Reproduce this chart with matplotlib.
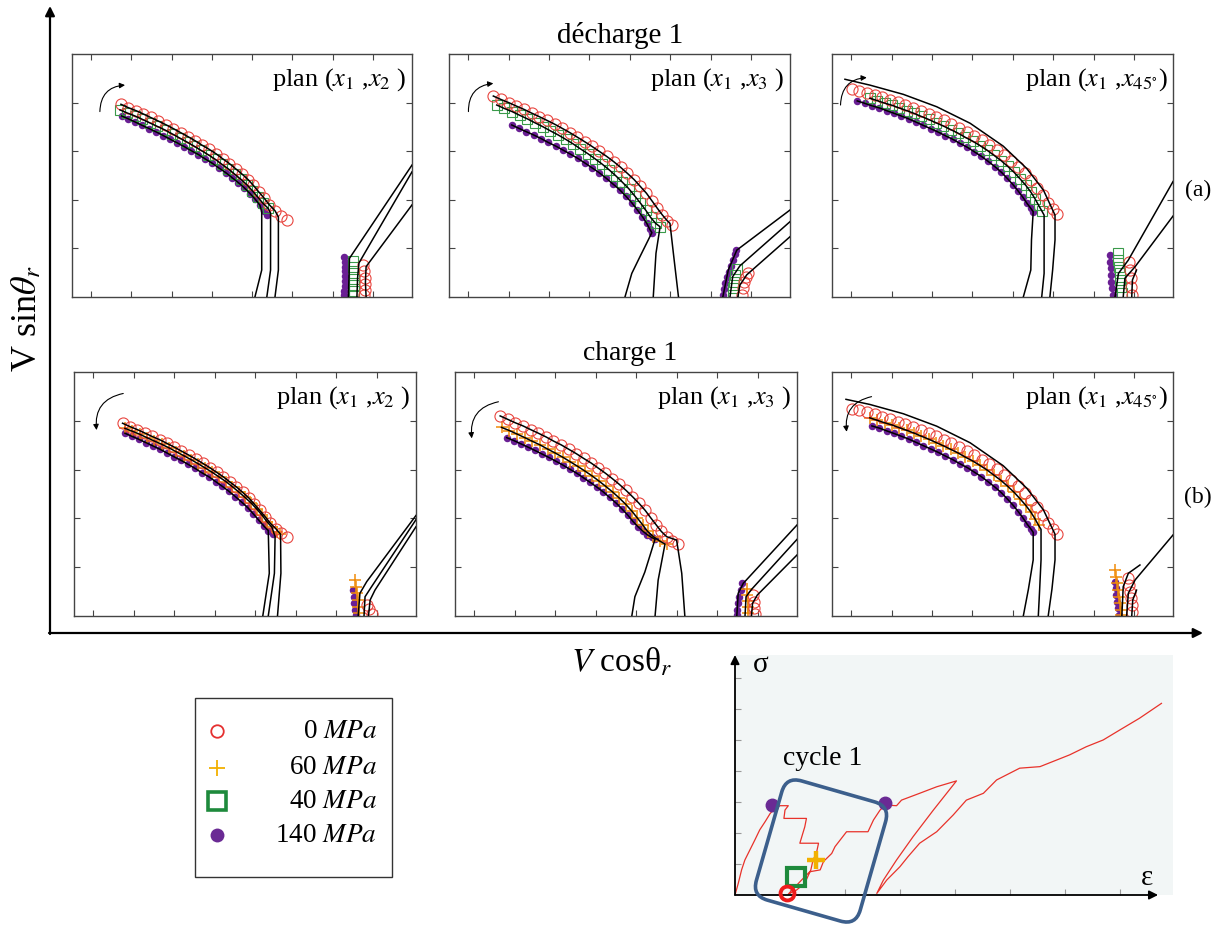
import matplotlib
matplotlib.use('Agg')
import matplotlib.pyplot as plt
from matplotlib.patches import FancyBboxPatch, Rectangle
from matplotlib.transforms import Affine2D

plt.rcParams['font.family'] = ['Liberation Serif', 'DejaVu Serif']
plt.rcParams['mathtext.fontset'] = 'stix'

# ============ DATA (panel units: % of panel width / height) ============
# ---- (a) décharge 1, plan (x1,x2) ----
a1_r_x = [14.4,16.6,18.8,21.0,23.1,25.4,27.6,29.8,32.0,34.1,36.2,38.2,40.3,42.4,44.3,46.3,48.1,50.0,51.8,53.3,54.9,56.5,58.0,59.7,61.4,63.1]
a1_r_y = [79.3,77.9,76.7,75.3,73.9,72.4,70.9,69.3,67.6,66.0,64.3,62.5,60.8,58.9,56.9,54.9,52.8,50.6,48.3,46.0,43.3,40.7,38.0,35.5,33.5,31.7]
a1_g_x = [14.1,16.3,18.5,20.7,22.8,25.1,27.4,29.5,31.7,33.8,35.9,37.9,40.0,42.1,44.0,46.0,47.8,49.7,51.5,53.0,54.6,56.2,57.7]
a1_g_y = [77.0,75.7,74.5,73.1,71.7,70.2,68.7,67.1,65.4,63.8,62.1,60.4,58.6,56.7,54.7,52.7,50.6,48.4,46.1,43.8,41.2,38.5,36.5]
a1_p_x = [14.6,16.6,18.6,20.7,22.7,24.8,26.9,28.9,31.0,33.0,35.1,37.2,39.2,41.3,43.2,45.2,47.1,48.9,50.7,52.4,53.9,55.3,56.5,57.3]
a1_p_y = [74.5,73.3,72.0,70.6,69.3,67.9,66.4,64.9,63.4,61.9,60.2,58.6,56.8,55.0,53.1,51.2,49.1,47.1,44.9,42.5,40.2,37.7,35.5,33.7]
a1_r_dx, a1_r_dy = [60.7,60.7,59.7], [33.0,11.1,0.0]
a1_g_dx, a1_g_dy = [58.4,58.4,57.3], [34.5,11.1,0.0]
a1_p_dx, a1_p_dy = [55.8,55.8,53.8], [35.0,11.1,0.0]
a1_pl_x = [80.0,80.3,80.3,80.3,80.4,80.3,80.2,80.1,80.0]
a1_pl_y = [16.5,14.5,12.5,10.5,8.5,6.5,4.5,2.5,0.8]
a1_gl_x = [82.6,82.7,82.8,82.9,83.0,83.0,82.9]
a1_gl_y = [15.0,12.5,10.0,7.5,5.0,2.5,0.5]
a1_rl_x = [85.5,85.9,86.1,86.2,86.1,86.0]
a1_rl_y = [13.0,10.5,8.0,5.5,3.0,0.8]
a1_l1_x, a1_l1_y = [81.3,81.5,81.6,100.0], [0.0,10.0,15.9,54.3]
a1_l2_x, a1_l2_y = [83.8,84.0,84.4,100.0], [0.0,8.0,14.0,51.5]
a1_l3_x, a1_l3_y = [86.5,86.3,86.5,100.0], [0.0,6.0,12.5,37.9]

# ---- (a) décharge 1, plan (x1,x3) ----
a2_r_x = [13.0,15.2,17.5,19.7,22.0,24.2,26.5,28.7,31.0,33.2,35.5,37.6,39.8,41.9,44.1,46.2,48.3,50.3,52.3,54.3,56.1,57.9,59.5,61.1,62.6,64.0,65.5]
a2_r_y = [82.7,81.3,80.0,78.6,77.2,75.7,74.2,72.7,71.1,69.4,67.6,65.8,63.9,62.0,59.9,57.9,55.7,53.4,50.9,48.3,45.5,42.7,39.6,36.5,33.7,31.4,29.5]
a2_g_x = [14.0,16.2,18.5,20.7,23.0,25.2,27.5,29.7,32.0,34.2,36.4,38.5,40.7,42.8,44.9,46.9,48.9,50.8,52.7,54.4,56.1,57.7,59.1,60.6,61.9]
a2_g_y = [79.0,77.6,76.3,74.8,73.3,71.7,70.1,68.4,66.7,64.9,63.0,61.0,59.0,56.9,54.7,52.4,49.9,47.3,44.6,41.7,38.7,35.7,32.8,30.3,28.9]
a2_p_x = [18.4,20.5,22.7,24.8,27.0,29.1,31.3,33.4,35.6,37.7,39.9,41.9,44.0,46.0,48.0,50.0,51.8,53.6,55.2,56.7,58.0,58.9,59.5]
a2_p_y = [70.8,69.4,68.0,66.7,65.2,63.6,62.1,60.5,58.8,57.1,55.1,53.2,51.2,49.0,46.6,44.2,41.6,38.8,35.9,33.1,30.3,27.8,26.5]
a2_r_dx, a2_r_dy = [64.8,65.8,67.3], [30.3,18.0,0.0]
a2_g_dx, a2_g_dy = [60.7,59.9], [18.0,0.0]
a2_p_dx, a2_p_dy = [56.0,53.6,51.6], [16.6,9.7,0.0]
a2_pl_x = [80.3,80.6,81.0,81.4,82.0,82.6,83.2,83.8,84.3]
a2_pl_y = [0.8,3.2,5.6,8.1,10.4,12.8,15.2,17.6,19.3]
a2_gl_x = [83.2,83.4,83.6,84.0,84.6]
a2_gl_y = [0.8,3.6,6.3,9.0,11.4]
a2_rl_x = [85.8,86.1,86.5,87.1,87.8]
a2_rl_y = [0.8,3.6,6.0,8.4,9.7]
a2_l1_x, a2_l1_y = [80.3,81.9,84.4,100.0], [0.0,11.1,19.3,35.8]
a2_l2_x, a2_l2_y = [82.4,83.2,85.3,100.0], [0.0,8.4,12.8,31.0]
a2_l3_x, a2_l3_y = [84.7,85.3,87.3,100.0], [0.0,4.9,9.1,24.8]

# ---- (a) décharge 1, plan (x1,x45) ----
a3_r_x = [5.8,8.0,10.3,12.5,14.8,17.0,19.3,21.5,23.8,26.0,28.3,30.5,32.8,35.0,37.2,39.5,41.7,44.0,46.1,48.3,50.4,52.5,54.5,56.5,58.4,60.1,61.8,63.3,64.7,65.9]
a3_r_y = [85.5,84.9,84.1,83.1,82.2,81.2,80.1,79.0,77.9,76.7,75.4,74.1,72.7,71.2,69.7,68.0,66.4,64.6,62.7,60.6,58.4,56.1,53.6,50.9,48.0,45.0,41.8,38.8,36.1,34.2]
a3_g_x = [11.1,13.3,15.4,17.6,19.7,21.9,24.0,26.2,28.3,30.5,32.6,34.8,37.0,39.1,41.3,43.4,45.5,47.5,49.6,51.5,53.4,55.1,56.8,58.3,59.5,60.6,61.5]
a3_g_y = [81.8,80.8,79.8,78.9,77.8,76.7,75.6,74.3,73.1,71.7,70.4,68.9,67.4,65.7,64.1,62.3,60.4,58.3,56.1,53.8,51.3,48.7,46.0,43.2,40.5,37.7,35.5]
a3_p_x = [7.4,9.6,11.7,13.9,16.0,18.2,20.3,22.5,24.6,26.8,28.9,31.1,33.2,35.4,37.5,39.7,41.7,43.8,45.8,47.8,49.7,51.4,53.1,54.6,56.0,57.2,58.3,59.0]
a3_p_y = [80.7,79.7,78.7,77.8,76.7,75.6,74.5,73.3,72.0,70.6,69.3,67.9,66.4,64.9,63.2,61.6,59.8,57.9,55.8,53.6,51.3,48.8,46.2,43.6,41.0,38.5,36.5,35.1]
a3_r_dx = [3.8,11.1,20.9,30.7,40.5,50.2,57.1,62.0,65.4,65.4,64.7,63.9]
a3_r_dy = [89.6,87.2,83.4,78.3,71.5,62.1,52.9,44.0,33.7,23.5,11.1,0.0]
a3_g_dx, a3_g_dy = [62.2,62.2,61.5], [33.7,9.7,0.0]
a3_p_dx, a3_p_dy = [58.5,58.3,56.1], [23.5,11.1,0.0]
a3_pl_x = [81.5,81.6,81.7,81.8,81.9,82.1,82.5]
a3_pl_y = [17.3,14.5,11.8,9.0,6.3,3.6,0.8]
a3_gl_x = [83.8,84.0,84.2,84.4,84.5,84.7,85.0]
a3_gl_y = [18.0,15.2,12.5,9.7,7.0,4.3,1.5]
a3_rl_x = [87.2,87.4,87.6,87.8,88.0]
a3_rl_y = [14.5,11.1,7.7,4.3,0.8]
a3_l1_x, a3_l1_y = [83.0,84.0,86.9,100.0], [0.0,9.7,15.2,47.5]
a3_l2_x, a3_l2_y = [85.4,85.9,88.9,100.0], [0.0,7.7,12.5,33.3]
a3_l3_x, a3_l3_y = [87.9,88.1,89.3], [0.0,7.0,11.1]

# ---- (b) charge 1, plan (x1,x2) ----
b1_r_x = [14.2,16.4,18.5,20.7,22.8,25.0,27.1,29.2,31.4,33.5,35.6,37.6,39.7,41.7,43.7,45.6,47.5,49.3,51.1,52.7,54.3,55.9,57.4,59.0,60.5,62.2]
b1_r_y = [79.0,77.6,76.4,75.0,73.6,72.3,70.8,69.3,67.6,66.0,64.3,62.6,60.8,58.9,57.0,54.9,52.9,50.7,48.4,45.9,43.3,40.7,38.0,35.8,33.9,32.2]
b1_o_x = [14.9,17.1,19.2,21.3,23.5,25.6,27.8,29.9,32.1,34.2,36.3,38.3,40.4,42.4,44.4,46.3,48.2,50.0,51.8,53.4,55.0,56.4,57.9,59.3,60.2]
b1_o_y = [76.9,75.7,74.5,73.1,71.7,70.4,68.9,67.3,65.7,64.1,62.4,60.7,58.9,57.0,55.1,53.0,50.8,48.6,46.3,43.9,41.3,38.7,36.3,34.6,33.5]
b1_p_x = [14.9,17.0,19.0,21.1,23.1,25.2,27.2,29.2,31.3,33.3,35.4,37.4,39.5,41.4,43.4,45.3,47.2,49.0,50.8,52.4,54.0,55.5,56.8,58.1]
b1_p_y = [74.9,73.6,72.4,71.0,69.7,68.3,66.8,65.3,63.8,62.2,60.5,58.7,57.0,55.1,53.1,51.1,48.9,46.7,44.4,41.9,39.3,36.9,35.0,33.6]
b1_r_dx, b1_r_dy = [60.4,60.5,59.5], [33.5,17.5,0.0]
b1_o_dx, b1_o_dy = [58.8,58.6,56.8], [32.5,17.5,0.0]
b1_p_dx, b1_p_dy = [57.1,55.2], [17.5,0.0]
b1_pl_x = [81.7,81.8,82.0,82.2,82.5]
b1_pl_y = [10.6,7.9,5.2,2.5,0.3]
b1_ol_x = [82.2,82.5,82.7,83.0,83.1,83.3]
b1_ol_y = [14.7,12.0,9.3,6.6,3.8,1.1]
b1_rl_x = [85.6,86.4,87.0]
b1_rl_y = [4.5,2.7,0.8]
b1_l1_x, b1_l1_y = [83.1,83.6,85.6,100.0], [0.0,9.3,14.1,41.2]
b1_l2_x, b1_l2_y = [84.8,85.1,87.0,100.0], [0.0,7.9,12.0,39.5]
b1_l3_x, b1_l3_y = [86.1,86.6,88.0,100.0], [0.0,6.6,10.6,36.6]

# ---- (b) charge 1, plan (x1,x3) ----
b2_r_x = [13.2,15.4,17.6,19.9,22.1,24.4,26.6,28.8,31.1,33.3,35.5,37.6,39.8,41.9,44.0,46.0,48.0,50.0,51.9,53.8,55.6,57.2,58.8,60.3,61.9,63.5,65.3]
b2_r_y = [82.0,80.6,79.2,77.9,76.4,74.9,73.4,71.7,70.1,68.3,66.5,64.6,62.7,60.6,58.5,56.3,54.0,51.5,48.9,46.2,43.3,40.3,37.4,34.7,32.5,30.9,29.5]
b2_o_x = [13.6,15.9,18.1,20.4,22.6,24.9,27.1,29.3,31.6,33.7,35.9,38.0,40.1,42.1,44.1,46.1,48.0,49.9,51.7,53.3,54.9,56.3,58.0,59.9,62.1]
b2_o_y = [77.3,76.0,74.6,73.1,71.6,70.1,68.4,66.8,65.0,63.2,61.3,59.4,57.4,55.3,53.1,50.8,48.4,45.8,43.0,40.2,37.3,34.7,32.5,30.7,29.5]
b2_p_x = [15.1,17.2,19.2,21.2,23.3,25.3,27.4,29.4,31.5,33.5,35.6,37.5,39.5,41.4,43.4,45.2,47.1,48.8,50.5,52.0,53.5,54.9,56.2,57.5,58.5]
b2_p_y = [73.1,71.9,70.6,69.3,67.9,66.5,65.0,63.5,61.9,60.2,58.5,56.7,54.8,52.9,50.8,48.6,46.3,43.9,41.4,38.8,36.6,34.8,33.3,32.2,31.5]
b2_r_dx, b2_r_dy = [64.8,66.3,67.2], [31.1,17.5,0.0]
b2_o_dx, b2_o_dy = [61.4,59.4,58.5], [29.5,14.7,0.0]
b2_p_dx, b2_p_dy = [55.5,52.6,51.7], [18.0,7.9,0.0]
b2_pl_x = [83.8,83.5,83.1,82.8,82.6,82.5]
b2_pl_y = [13.4,10.6,7.9,5.2,2.5,0.3]
b2_ol_x = [85.5,85.5,85.6,85.7,85.8]
b2_ol_y = [10.9,8.6,6.3,3.8,1.4]
b2_rl_x = [87.2,87.4,87.5,87.6]
b2_rl_y = [8.6,5.9,3.1,0.7]
b2_l1_x, b2_l1_y = [82.4,82.8,84.3,100.0], [0.0,9.3,13.4,37.3]
b2_l2_x, b2_l2_y = [84.8,85.1,86.7,100.0], [0.0,7.9,10.9,31.4]
b2_l3_x, b2_l3_y = [86.7,87.0,88.4,100.0], [0.0,5.2,8.6,25.0]

# ---- (b) charge 1, plan (x1,x45) ----
b3_r_x = [5.8,8.0,10.3,12.5,14.8,17.0,19.3,21.5,23.8,26.0,28.3,30.5,32.8,35.0,37.2,39.5,41.7,44.0,46.1,48.3,50.4,52.5,54.5,56.5,58.4,60.1,61.8,63.3,64.7,65.9]
b3_r_y = [85.0,84.4,83.6,82.6,81.7,80.7,79.6,78.5,77.4,76.2,74.9,73.6,72.2,70.7,69.2,67.5,65.9,64.1,62.2,60.1,57.9,55.6,53.1,50.4,47.5,44.5,41.3,38.3,35.6,33.7]
b3_o_x = [11.1,13.3,15.4,17.6,19.7,21.9,24.0,26.2,28.3,30.5,32.6,34.8,37.0,39.1,41.3,43.4,45.5,47.5,49.6,51.5,53.4,55.1,56.8,58.3,59.5,60.6]
b3_o_y = [81.2,80.2,79.2,78.3,77.2,76.1,75.0,73.7,72.5,71.1,69.8,68.3,66.8,65.1,63.5,61.7,59.8,57.7,55.5,53.2,50.7,48.1,45.4,42.6,39.9,37.1]
b3_p_x = [11.7,13.9,16.0,18.2,20.3,22.5,24.6,26.8,28.9,31.1,33.2,35.4,37.5,39.7,41.7,43.8,45.8,47.8,49.7,51.4,53.1,54.6,56.0,57.2,58.3,59.0]
b3_p_y = [77.9,77.0,75.9,74.8,73.7,72.5,71.2,69.8,68.5,67.1,65.6,64.1,62.4,60.8,59.0,57.1,55.0,52.8,50.5,48.0,45.4,42.8,40.2,37.7,35.7,34.3]
b3_r_dx = [4.1,11.1,20.9,30.7,40.5,50.2,57.1,62.0,65.4,65.4,64.5,63.4]
b3_r_dy = [88.8,86.7,82.9,77.8,71.0,61.6,52.4,43.5,33.5,23.0,11.0,0.0]
b3_o_dx, b3_o_dy = [61.3,61.3,60.9,60.5], [35.5,23.0,11.0,0.0]
b3_p_dx, b3_p_dy = [59.0,57.6,56.1], [23.0,11.0,0.0]
b3_pl_x = [83.0,83.2,83.4,83.7,84.0,84.3]
b3_pl_y = [14.1,11.3,8.6,5.9,3.1,0.4]
b3_ol_x = [83.0,83.3,83.7,84.0,84.3,84.5,84.7,84.8]
b3_ol_y = [18.8,16.1,13.4,10.6,7.9,5.2,2.5,0.3]
b3_rl_x = [86.9,87.1,87.4,87.6,87.9,88.1]
b3_rl_y = [15.4,12.7,10.0,7.2,4.5,1.8]
b3_l1_x, b3_l1_y = [85.0,85.4,86.9,90.3], [0.0,12.0,17.5,20.9]
b3_l2_x, b3_l2_y = [86.4,86.9,88.9,100.0], [0.0,9.3,14.8,33.2]
b3_l3_x, b3_l3_y = [87.9,88.2,89.3], [0.0,6.6,10.6]

# ---- stress-strain inset ----
ss_eps = [0,0.06,0.12,0.18,0.27,0.36,0.45,0.55,0.64,0.73,0.82,0.97,
          0.91,0.89,1.30,1.27,1.18,1.52,1.48,1.42,1.38,1.27,1.12,0.97,
          1.21,1.36,1.55,1.61,1.76,1.82,2.03,2.42,2.52,2.64,2.73,2.94,3.03,3.36,3.67,4.03,
          3.61,3.24,2.94,2.70,2.58,
          2.76,3.00,3.15,3.36,3.67,3.97,4.21,4.52,4.76,5.18,5.55,6.09,6.39,6.70,7.00,7.36,7.76]
ss_sig = [0,0.38,0.81,1.13,1.45,1.77,2.10,2.37,2.63,2.80,2.88,2.88,
          2.74,2.47,2.47,2.20,1.67,1.67,1.34,1.13,0.81,0.38,0.16,0.03,
          0.48,0.75,0.81,1.08,1.34,1.56,2.04,2.04,2.42,2.74,2.90,2.88,3.06,3.28,3.49,3.68,
          2.74,1.88,1.13,0.48,0.05,
          0.48,0.91,1.24,1.67,2.04,2.58,3.06,3.28,3.71,4.09,4.14,4.52,4.78,5.00,5.32,5.70,6.18]
pt_r_eps, pt_r_sig = [0.94], [0.05]
pt_g_eps, pt_g_sig = [1.11], [0.57]
pt_o_eps, pt_o_sig = [1.48], [1.13]
pt_p_eps, pt_p_sig = [0.68, 2.73], [2.90, 2.96]

legend_keys = ['r', 'o', 'g', 'p']
legend_labels = ['0 $MPa$', '60 $MPa$', '40 $MPa$', '140 $MPa$']
plan_labels = [r'plan ($x_1$ ,$x_2$ )', r'plan ($x_1$ ,$x_3$ )', r'plan ($x_1$ ,$x_{45^{\circ}}$)']
row_titles = ['décharge 1', 'charge 1']
row_tags = ['(a)', '(b)']

# ============ STYLE ============
MK = {'r': dict(marker='o', mfc='none', mec='#e8453f', ms=8, mew=0.8, color='#e8453f'),
      'g': dict(marker='s', mfc='none', mec='#3a9a4a', ms=6.8, mew=0.8, color='#3a9a4a'),
      'o': dict(marker='+', color='#f08c0a', ms=8, mew=1.1),
      'p': dict(marker='o', color='#6a1f94', mec='#6a1f94', ms=5.4, mew=0)}
LEG = {'r': dict(marker='o', mfc='none', mec='#e53030', ms=9, mew=1.3),
       'o': dict(marker='+', color='#f2b000', ms=12, mew=1.3),
       'g': dict(marker='s', mfc='none', mec='#1e8a3c', ms=13, mew=2.6),
       'p': dict(marker='o', color='#6a2a94', ms=10, mew=0)}

W, H = 1225, 926
fig = plt.figure(figsize=(W / 100, H / 100), dpi=100)

PANELS = [
    dict(box=(72, 54, 412, 297), label=plan_labels[0],
         series=[('p', a1_p_x, a1_p_y, 22, a1_p_dx, a1_p_dy), ('g', a1_g_x, a1_g_y, 23, a1_g_dx, a1_g_dy),
                 ('r', a1_r_x, a1_r_y, 24, a1_r_dx, a1_r_dy)],
         lower=[('p', a1_pl_x, a1_pl_y), ('g', a1_gl_x, a1_gl_y), ('r', a1_rl_x, a1_rl_y)],
         llines=[(a1_l1_x, a1_l1_y), (a1_l2_x, a1_l2_y), (a1_l3_x, a1_l3_y)],
         arrow=((8.2, 76.3), (15.6, 87.2), -0.45)),
    dict(box=(449, 54, 790, 297), label=plan_labels[1],
         series=[('p', a2_p_x, a2_p_y, 23, a2_p_dx, a2_p_dy), ('g', a2_g_x, a2_g_y, 25, a2_g_dx, a2_g_dy),
                 ('r', a2_r_x, a2_r_y, 26, a2_r_dx, a2_r_dy)],
         lower=[('p', a2_pl_x, a2_pl_y), ('g', a2_gl_x, a2_gl_y), ('r', a2_rl_x, a2_rl_y)],
         llines=[(a2_l1_x, a2_l1_y), (a2_l2_x, a2_l2_y), (a2_l3_x, a2_l3_y)],
         arrow=((5.7, 76.3), (13.0, 87.9), -0.45)),
    dict(box=(832, 54, 1173, 297), label=plan_labels[2],
         series=[('p', a3_p_x, a3_p_y, 28, a3_p_dx, a3_p_dy), ('g', a3_g_x, a3_g_y, 27, a3_g_dx, a3_g_dy),
                 ('r', a3_r_x, a3_r_y, 0, a3_r_dx, a3_r_dy)],
         lower=[('p', a3_pl_x, a3_pl_y), ('g', a3_gl_x, a3_gl_y), ('r', a3_rl_x, a3_rl_y)],
         llines=[(a3_l1_x, a3_l1_y), (a3_l2_x, a3_l2_y), (a3_l3_x, a3_l3_y)],
         arrow=((2.5, 79.0), (10.2, 90.3), -0.45)),
    dict(box=(74, 372, 416, 616), label=plan_labels[0],
         series=[('p', b1_p_x, b1_p_y, 23, b1_p_dx, b1_p_dy), ('o', b1_o_x, b1_o_y, 23, b1_o_dx, b1_o_dy),
                 ('r', b1_r_x, b1_r_y, 24, b1_r_dx, b1_r_dy)],
         lower=[('p', b1_pl_x, b1_pl_y), ('o', b1_ol_x, b1_ol_y), ('r', b1_rl_x, b1_rl_y)],
         llines=[(b1_l1_x, b1_l1_y), (b1_l2_x, b1_l2_y), (b1_l3_x, b1_l3_y)],
         arrow=((14.4, 91.2), (6.6, 76.2), 0.45)),
    dict(box=(455, 372, 797, 616), label=plan_labels[1],
         series=[('p', b2_p_x, b2_p_y, 25, b2_p_dx, b2_p_dy), ('o', b2_o_x, b2_o_y, 24, b2_o_dx, b2_o_dy),
                 ('r', b2_r_x, b2_r_y, 25, b2_r_dx, b2_r_dy)],
         lower=[('p', b2_pl_x, b2_pl_y), ('o', b2_ol_x, b2_ol_y), ('r', b2_rl_x, b2_rl_y)],
         llines=[(b2_l1_x, b2_l1_y), (b2_l2_x, b2_l2_y), (b2_l3_x, b2_l3_y)],
         arrow=((12.7, 87.8), (4.9, 72.8), 0.45)),
    dict(box=(832, 372, 1173, 616), label=plan_labels[2],
         series=[('p', b3_p_x, b3_p_y, 26, b3_p_dx, b3_p_dy), ('o', b3_o_x, b3_o_y, 26, b3_o_dx, b3_o_dy),
                 ('r', b3_r_x, b3_r_y, 0, b3_r_dx, b3_r_dy)],
         lower=[('p', b3_pl_x, b3_pl_y), ('o', b3_ol_x, b3_ol_y), ('r', b3_rl_x, b3_rl_y)],
         llines=[(b3_l1_x, b3_l1_y), (b3_l2_x, b3_l2_y), (b3_l3_x, b3_l3_y)],
         arrow=((11.6, 89.9), (4.3, 75.5), 0.45)),
]

for spec in PANELS:
    l, t, r, b = spec['box']
    ax = fig.add_axes([l / W, 1 - b / H, (r - l) / W, (b - t) / H])
    ax.set_xlim(0, 100)
    ax.set_ylim(0, 100)
    ax.set_xticks([5.6 + 11.85 * k for k in range(8)])
    ax.set_yticks([20, 40, 60, 80])
    ax.tick_params(direction='in', length=4, width=0.8, top=True, right=True,
                   labelbottom=False, labelleft=False, colors='#444444')
    for s in ax.spines.values():
        s.set_linewidth(1.0)
        s.set_color('#444444')
    for key, mx, my, n, dx, dy in spec['series']:
        ax.plot(mx, my, ls='none', zorder=2, **MK[key])
    for key, mx, my in spec['lower']:
        ax.plot(mx, my, ls='none', zorder=2, **MK[key])
    for key, mx, my, n, dx, dy in spec['series']:
        ax.plot(list(mx[:n]) + list(dx), list(my[:n]) + list(dy), color='black', lw=1.1, zorder=3)
    for lx, ly in spec['llines']:
        ax.plot(lx, ly, color='black', lw=1.1, zorder=3)
    (sx, sy), (ex, ey), rad = spec['arrow']
    ax.annotate('', xy=(ex, ey), xytext=(sx, sy),
                arrowprops=dict(arrowstyle='-|>', connectionstyle=f'arc3,rad={rad}', lw=0.8,
                                color='black', mutation_scale=8, shrinkA=0, shrinkB=0))
    ax.text(0.985, 0.872, spec['label'], transform=ax.transAxes, ha='right', va='baseline', fontsize=19)

# ---------- stress-strain inset ----------
ins = fig.add_axes([735 / W, 1 - 895 / H, 438 / W, 240 / H])
ins.set_facecolor('#f2f6f6')
ins.set_xlim(0, 7.97)
ins.set_ylim(0, 7.74)
for s in ins.spines.values():
    s.set_visible(False)
ins.set_xticks(range(1, 8))
ins.set_yticks(range(1, 8))
ins.tick_params(direction='in', length=4, width=0.8, colors='#999999', labelbottom=False, labelleft=False)
ins.plot(ss_eps, ss_sig, color='#e8322a', lw=0.9)
arr = dict(arrowstyle='-|>', lw=1.3, color='black', mutation_scale=13, shrinkA=0, shrinkB=0)
ins.annotate('', xy=(0, 1.0), xytext=(0, 0), xycoords='axes fraction', arrowprops=arr, annotation_clip=False)
ins.annotate('', xy=(0.966, 0), xytext=(0, 0), xycoords='axes fraction', arrowprops=arr, annotation_clip=False)
ins.plot(pt_p_eps, pt_p_sig, ls='none', marker='o', color='#6a2a94', ms=9, clip_on=False, zorder=5)
ins.plot(pt_g_eps, pt_g_sig, ls='none', marker='s', mfc='none', mec='#1e8a3c', ms=13, mew=3, clip_on=False, zorder=5)
ins.plot(pt_o_eps, pt_o_sig, ls='none', marker='+', color='#f2b000', ms=13, mew=3.2, clip_on=False, zorder=5)
ins.plot(pt_r_eps, pt_r_sig, ls='none', marker='o', mfc='none', mec='#ee1c1c', ms=10, mew=2.8, clip_on=False, zorder=6)
ins.text(0.041, 0.958, 'σ', transform=ins.transAxes, fontsize=21, ha='left', va='center')
ins.text(0.94, 0.07, 'ε', transform=ins.transAxes, fontsize=21, ha='center', va='center')
ins.text(0.2, 0.57, 'cycle 1', transform=ins.transAxes, fontsize=20, ha='center', va='center')

# ---------- overlay (pixel coordinates) ----------
ov = fig.add_axes([0, 0, 1, 1])
ov.set_xlim(0, W)
ov.set_ylim(H, 0)
ov.axis('off')
big = dict(arrowstyle='-|>', lw=1.6, color='black', mutation_scale=14, shrinkA=0, shrinkB=0)
ov.annotate('', xy=(50, 6), xytext=(50, 634), arrowprops=big)
ov.annotate('', xy=(1203, 633), xytext=(49, 633), arrowprops=big)
ov.text(27, 318, r'V sin$\theta_r$', rotation=90, ha='center', va='center', fontsize=26)
ov.text(622, 662, r'$V$ cosθ$_r$', ha='center', va='center', fontsize=24)
ov.text(620, 43, row_titles[0], ha='center', va='baseline', fontsize=21)
ov.text(630, 360, row_titles[1], ha='center', va='baseline', fontsize=20)
ov.text(1198, 190, row_tags[0], ha='center', va='center', fontsize=17)
ov.text(1198, 497, row_tags[1], ha='center', va='center', fontsize=17)

# legend box
ov.add_patch(Rectangle((195, 698), 197, 179, fill=False, ec='#333333', lw=1.0))
for i, (key, lab) in enumerate(zip(legend_keys, legend_labels)):
    yy = [731, 768, 801, 835][i]
    ov.plot([217], [yy], ls='none', **LEG[key])
    ov.text(377, yy, lab, ha='right', va='center', fontsize=19.5)

# cycle box
cx, cy, bw, bh = 821, 851, 108, 124
box = FancyBboxPatch((cx - bw / 2, cy - bh / 2), bw, bh, boxstyle='round,pad=0,rounding_size=16',
                     fill=False, ec='#3c5f8c', lw=2.6,
                     transform=Affine2D().rotate_deg_around(cx, cy, 16) + ov.transData)
ov.add_patch(box)

fig.savefig('out.png', dpi=100)
